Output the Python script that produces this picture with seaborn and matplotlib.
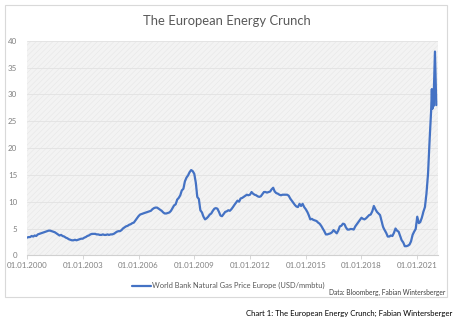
import matplotlib
matplotlib.use("Agg")
import matplotlib.pyplot as plt
import matplotlib.dates as mdates
from matplotlib.patches import Rectangle
import pandas as pd
import seaborn as sns

# Monthly price series, 2000-2021 (USD/mmbtu)
monthly_prices = [
    # 2000
    3.3, 3.4, 3.4, 3.6, 3.5, 3.7, 3.6, 3.9, 4.0, 4.1, 4.2, 4.3,
    # 2001
    4.4, 4.5, 4.6, 4.6, 4.5, 4.4, 4.3, 4.1, 3.9, 3.7, 3.8, 3.6,
    # 2002
    3.5, 3.3, 3.2, 3.0, 2.9, 2.8, 2.8, 2.9, 2.8, 2.9, 3.0, 3.1,
    # 2003
    3.1, 3.3, 3.4, 3.6, 3.7, 3.9, 4.0, 4.0, 4.0, 3.9, 3.9, 3.8,
    # 2004
    3.8, 3.9, 3.8, 3.8, 3.9, 3.8, 3.9, 3.9, 4.0, 4.2, 4.4, 4.5,
    # 2005
    4.5, 4.7, 5.0, 5.2, 5.4, 5.5, 5.7, 5.8, 6.0, 6.1, 6.5, 6.9,
    # 2006
    7.3, 7.6, 7.7, 7.8, 7.9, 8.0, 8.1, 8.2, 8.3, 8.6, 8.8, 8.9,
    # 2007
    8.9, 8.7, 8.5, 8.3, 8.0, 7.8, 7.8, 7.9, 8.0, 8.3, 8.8, 9.3,
    # 2008
    9.5, 10.4, 10.7, 11.2, 12.1, 12.4, 13.8, 14.5, 14.9, 15.5, 15.9, 15.7,
    # 2009
    15.2, 13.5, 10.9, 10.5, 8.4, 8.0, 7.2, 6.7, 6.9, 7.2, 7.6, 7.8,
    # 2010
    8.3, 8.7, 8.8, 8.7, 8.1, 7.4, 7.3, 7.7, 8.1, 8.2, 8.4, 8.3,
    # 2011
    8.6, 9.0, 9.4, 9.8, 10.2, 10.0, 10.6, 10.7, 10.9, 11.1, 11.3, 11.2,
    # 2012
    11.3, 11.8, 11.5, 11.3, 11.2, 11.0, 10.9, 11.0, 11.4, 11.8, 11.8, 11.7,
    # 2013
    11.8, 11.9, 12.3, 12.6, 11.9, 11.6, 11.5, 11.3, 11.2, 11.3, 11.3, 11.3,
    # 2014
    11.3, 11.1, 10.6, 10.2, 9.8, 9.4, 9.1, 9.0, 9.6, 9.2, 9.6, 9.0,
    # 2015
    8.6, 8.1, 7.5, 6.7, 6.8, 6.6, 6.5, 6.4, 6.1, 5.9, 5.5, 5.0,
    # 2016
    4.5, 3.9, 3.9, 4.0, 4.1, 4.3, 4.7, 4.4, 4.1, 4.6, 5.4, 5.5,
    # 2017
    5.9, 5.8, 5.2, 4.8, 4.8, 4.9, 4.9, 4.8, 5.4, 5.8, 6.2, 6.6,
    # 2018
    7.0, 6.8, 6.7, 6.9, 7.2, 7.5, 7.6, 8.2, 9.2, 8.6, 8.1, 7.8,
    # 2019
    7.5, 6.3, 5.3, 4.7, 4.2, 3.5, 3.5, 3.7, 3.6, 4.2, 5.0, 4.6,
    # 2020
    4.4, 3.6, 2.8, 2.4, 1.7, 1.7, 1.8, 2.0, 2.6, 3.8, 4.4, 4.9,
    # 2021 (Jan-Sep)
    7.2, 6.0, 6.2, 7.0, 8.1, 9.0, 11.5, 15.2, 21.5,
]

# Late-2021 spike, recorded at finer intervals
spike_dates = ["2021-10-01", "2021-10-15", "2021-10-25", "2021-11-05",
               "2021-11-15", "2021-12-15", "2022-01-10"]
spike_prices = [27.0, 31.0, 27.3, 30.8, 27.8, 38.0, 28.0]

tick_years = [2000, 2003, 2006, 2009, 2012, 2015, 2018, 2021]
y_ticks = [0, 5, 10, 15, 20, 25, 30, 35, 40]

series_label = "World Bank Natural Gas Price Europe (USD/mmbtu)"
title_text = "The European Energy Crunch"
source_text = "Data: Bloomberg, Fabian Wintersberger"
caption_text = "Chart 1: The European Energy Crunch; Fabian Wintersberger"

month_dates = pd.date_range("2000-01-01", periods=len(monthly_prices), freq="MS")
df = pd.DataFrame({
    "date": list(month_dates) + list(pd.to_datetime(spike_dates)),
    "price": monthly_prices + spike_prices,
})

sns.set_theme(style="white")
plt.rcParams["font.family"] = ["Lato", "DejaVu Sans"]
plt.rcParams["hatch.linewidth"] = 0.4
plt.rcParams["hatch.color"] = "#e7e7e7"

fig = plt.figure(figsize=(4.56, 3.24), dpi=100)
fig.patch.set_facecolor("white")

# chart frame, kept behind the axes
frame = Rectangle((0.011, 0.083), 0.969, 0.903, transform=fig.transFigure,
                  facecolor="white", edgecolor="#d9d9d9", lw=0.8, zorder=-5)
fig.add_artist(frame)

ax = fig.add_axes([0.0592, 0.212, 0.901, 0.662])
ax.set_zorder(2)
ax.set_facecolor("#f3f3f3")
ax.patch.set_hatch("//////")
ax.patch.set_edgecolor("#e7e7e7")
ax.patch.set_linewidth(0)

sns.lineplot(data=df, x="date", y="price", ax=ax, color="#4472C4", lw=1.6,
             label=series_label, legend=False)

ax.set_ylim(0, 40)
ax.set_yticks(y_ticks)
ax.set_xlim(pd.Timestamp("2000-01-01"), pd.Timestamp("2022-02-10"))
ax.set_xticks([pd.Timestamp(f"{y}-01-01") for y in tick_years])
ax.xaxis.set_major_formatter(mdates.DateFormatter("%d.%m.%Y"))
ax.grid(axis="y", color="#e2e2e2", lw=0.6)
ax.set_axisbelow(True)
for side in ["top", "right", "left"]:
    ax.spines[side].set_visible(False)
ax.spines["bottom"].set_color("#d0d0d0")
ax.spines["bottom"].set_linewidth(0.8)
ax.tick_params(axis="x", colors="#d0d0d0", labelcolor="#7f7f7f", labelsize=5.7,
               length=3, width=0.6, pad=2, direction="out", bottom=True)
ax.tick_params(axis="y", labelcolor="#7f7f7f", labelsize=5.7, length=0, pad=7)
ax.set_xlabel("")
ax.set_ylabel("")

fig.text(0.498, 0.935, title_text, ha="center", va="center", fontsize=9.4, color="#595959")

handles, labels = ax.get_legend_handles_labels()
fig.legend(handles, labels, loc="center", bbox_to_anchor=(0.5, 0.118), frameon=False,
           fontsize=5.4, labelcolor="#595959", handlelength=2.6, handletextpad=0.1,
           borderpad=0)

fig.text(0.977, 0.098, source_text, ha="right", va="center", fontsize=4.75, color="#404040")
fig.text(0.992, 0.034, caption_text, ha="right", va="center", fontsize=5.6, color="black")

fig.savefig("out.png", dpi=100, facecolor="white")
